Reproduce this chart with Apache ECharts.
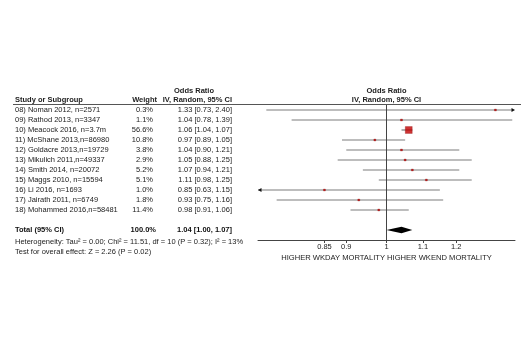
<!DOCTYPE html>
<html>
<head>
<meta charset="utf-8">
<script src="https://cdn.jsdelivr.net/npm/echarts@6/dist/echarts.min.js"></script>
<style>
  html, body { margin: 0; padding: 0; background: #fff; }
  #chart { width: 530px; height: 350px; }
</style>
</head>
<body>
<div id="chart"></div>
<script>
// study rows (top to bottom)
const studies = [
  '08) Noman 2012, n=2571',
  '09) Rathod 2013, n=3347',
  '10) Meacock 2016, n=3.7m',
  '11) McShane 2013,n=86980',
  '12) Goldacre 2013,n=19729',
  '13) Mikulich 2011,n=49337',
  '14) Smith 2014, n=20072',
  '15) Maggs 2010, n=15594',
  '16) Li 2016, n=1693',
  '17) Jairath 2011, n=6749',
  '18) Mohammed 2016,n=58481'
];
const weights = [0.3, 1.1, 56.6, 10.8, 3.8, 2.9, 5.2, 5.1, 1.0, 1.8, 11.4];
const oddsRatio = [1.33, 1.04, 1.06, 0.97, 1.04, 1.05, 1.07, 1.11, 0.85, 0.93, 0.98];
const ciLow = [0.73, 0.78, 1.04, 0.89, 0.90, 0.88, 0.94, 0.98, 0.63, 0.75, 0.91];
const ciHigh = [2.40, 1.39, 1.07, 1.05, 1.21, 1.25, 1.21, 1.25, 1.15, 1.16, 1.06];

const totalLabel = 'Total (95% CI)';
const totalWeight = 100.0;
const totalOR = [1.00, 1.04, 1.07]; // low, estimate, high

const tickValues = [0.85, 0.9, 1, 1.1, 1.2];
const heteroText = 'Heterogeneity: Tau\u00b2 = 0.00; Chi\u00b2 = 11.51, df = 10 (P = 0.32); I\u00b2 = 13%';
const effectText = 'Test for overall effect: Z = 2.26 (P = 0.02)';
const axisName = 'HIGHER WKDAY MORTALITY HIGHER WKEND MORTALITY';

const X_MIN = 1 / 1.4, X_MAX = 1.4;
const TOTAL_ROW = 12;
const FONT = '"Liberation Sans", Arial, sans-serif';
const FS = 7.5;

const fmt = v => v.toFixed(2);

const chart = echarts.init(document.getElementById('chart'));

const ciData = studies.map((s, i) => [ciLow[i], ciHigh[i], i]);
const pointData = studies.map((s, i) => [oddsRatio[i], i, weights[i]]);

function headText(text, x, y, align, bold) {
  return {
    type: 'text',
    style: {
      text: text, x: x, y: y,
      font: (bold ? 'bold ' : '') + FS + 'px ' + FONT,
      fill: '#222',
      textAlign: align,
      textVerticalAlign: 'middle'
    }
  };
}

const option = {
  backgroundColor: '#fff',
  animation: false,
  grid: { left: 258, right: 15, top: 105, bottom: 110 },
  xAxis: {
    type: 'log',
    min: X_MIN,
    max: X_MAX,
    axisLine: { onZero: false, lineStyle: { color: '#444', width: 1 } },
    axisTick: { customValues: tickValues, length: 3, lineStyle: { color: '#444' } },
    axisLabel: {
      customValues: tickValues,
      fontSize: FS, fontFamily: FONT, color: '#222', margin: 3,
      formatter: v => String(+(+v).toFixed(2))
    },
    splitLine: { show: false },
    name: axisName,
    nameLocation: 'middle',
    nameGap: 14,
    nameTextStyle: { fontSize: 7.6, fontFamily: FONT, color: '#222' }
  },
  yAxis: {
    type: 'value',
    inverse: true,
    min: -0.5,
    max: 13,
    axisLine: { show: false },
    axisTick: { show: false },
    splitLine: { show: false },
    axisLabel: {
      customValues: studies.map((s, i) => i).concat([TOTAL_ROW]),
      align: 'left',
      margin: 243,
      formatter: function (v) {
        const i = Math.round(v);
        if (i === TOTAL_ROW) {
          return '{sb|' + totalLabel + '}{wb|' + totalWeight.toFixed(1) + '%}{ob|' +
            fmt(totalOR[1]) + ' [' + fmt(totalOR[0]) + ', ' + fmt(totalOR[2]) + ']}';
        }
        return '{s|' + studies[i] + '}{w|' + weights[i].toFixed(1) + '%}{o|' +
          fmt(oddsRatio[i]) + ' [' + fmt(ciLow[i]) + ', ' + fmt(ciHigh[i]) + ']}';
      },
      rich: {
        s: { width: 111, align: 'left', fontSize: FS, fontFamily: FONT, color: '#222' },
        w: { width: 27, align: 'right', fontSize: FS, fontFamily: FONT, color: '#222' },
        o: { width: 79, align: 'right', fontSize: FS, fontFamily: FONT, color: '#222' },
        sb: { width: 111, align: 'left', fontSize: FS, fontFamily: FONT, color: '#111', fontWeight: 'bold' },
        wb: { width: 30, align: 'right', fontSize: FS, fontFamily: FONT, color: '#111', fontWeight: 'bold' },
        ob: { width: 76, align: 'right', fontSize: FS, fontFamily: FONT, color: '#111', fontWeight: 'bold' }
      }
    }
  },
  graphic: [
    headText('Odds Ratio', 194, 90.5, 'center', true),
    headText('Study or Subgroup', 15, 99.5, 'left', true),
    headText('Weight', 157, 99.5, 'right', true),
    headText('IV, Random, 95% CI', 232, 99.5, 'right', true),
    headText('Odds Ratio', 386.5, 90.5, 'center', true),
    headText('IV, Random, 95% CI', 386.5, 99.5, 'center', true),
    {
      type: 'line',
      shape: { x1: 13, y1: 104.5, x2: 521, y2: 104.5 },
      style: { stroke: '#555', lineWidth: 1 }
    },
    headText(heteroText, 15, 242, 'left', false),
    headText(effectText, 15, 251.5, 'left', false)
  ],
  series: [
    {
      // confidence intervals
      type: 'custom',
      clip: false,
      encode: { x: [0, 1], y: 2 },
      renderItem: function (params, api) {
        const lo = api.value(0), hi = api.value(1), y = api.value(2);
        const a = api.coord([Math.max(lo, X_MIN), y]);
        const b = api.coord([Math.min(hi, X_MAX), y]);
        const children = [{
          type: 'line',
          shape: { x1: a[0], y1: a[1], x2: b[0] - (hi > X_MAX ? 2 : 0), y2: b[1] },
          style: { stroke: '#7d7d7d', lineWidth: 1.2 }
        }];
        if (hi > X_MAX) {
          children.push({
            type: 'polygon',
            shape: { points: [[b[0], b[1]], [b[0] - 3.5, b[1] - 2], [b[0] - 3.5, b[1] + 2]] },
            style: { fill: '#111' }
          });
        }
        if (lo < X_MIN) {
          children.push({
            type: 'polygon',
            shape: { points: [[a[0], a[1]], [a[0] + 3.5, a[1] - 2], [a[0] + 3.5, a[1] + 2]] },
            style: { fill: '#111' }
          });
        }
        return { type: 'group', children: children };
      },
      data: ciData,
      z: 2
    },
    {
      // study estimates
      type: 'scatter',
      symbol: 'rect',
      symbolSize: d => Math.max(2, 7 * d[2] / 56.6),
      itemStyle: { color: '#c00000', borderColor: '#800000', borderWidth: 0.3 },
      data: pointData,
      markLine: {
        silent: true,
        symbol: 'none',
        label: { show: false },
        lineStyle: { color: '#444', width: 1, type: 'solid' },
        data: [{ xAxis: 1 }]
      },
      z: 3
    },
    {
      // pooled diamond
      type: 'custom',
      clip: false,
      encode: { x: [0, 1, 2], y: 3 },
      renderItem: function (params, api) {
        const l = api.coord([api.value(0), api.value(3)]);
        const m = api.coord([api.value(1), api.value(3)]);
        const r = api.coord([api.value(2), api.value(3)]);
        return {
          type: 'polygon',
          shape: { points: [[l[0], l[1]], [m[0], m[1] - 3.3], [r[0], r[1]], [m[0], m[1] + 3.3]] },
          style: { fill: '#000' }
        };
      },
      data: [[totalOR[0], totalOR[1], totalOR[2], TOTAL_ROW]],
      z: 4
    }
  ]
};

chart.setOption(option);
</script>
</body>
</html>
